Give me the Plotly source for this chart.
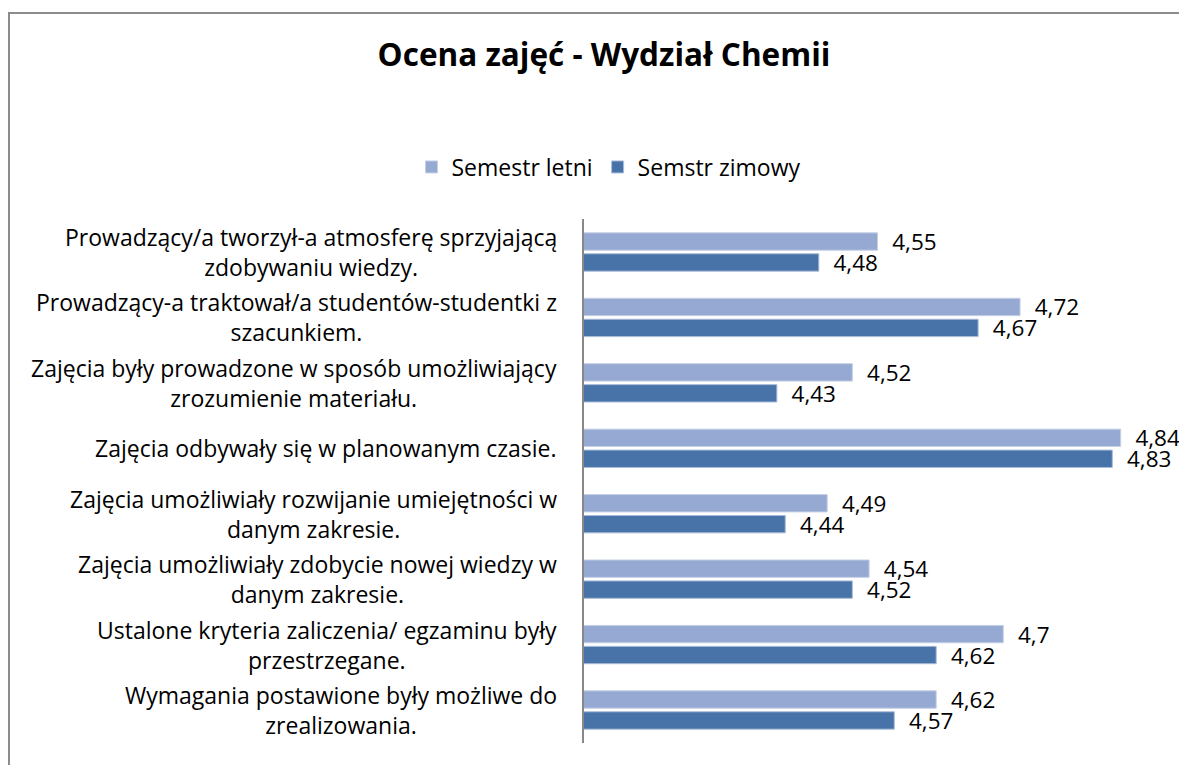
import plotly.graph_objects as go

categories = [
    "Prowadzący/a tworzył-a atmosferę sprzyjającą<br>zdobywaniu wiedzy.",
    "Prowadzący-a traktował/a studentów-studentki z<br>szacunkiem.",
    "Zajęcia były prowadzone w sposób umożliwiający<br>zrozumienie materiału.",
    "Zajęcia odbywały się w planowanym czasie.",
    "Zajęcia umożliwiały rozwijanie umiejętności w<br>danym zakresie.",
    "Zajęcia umożliwiały zdobycie nowej wiedzy w<br>danym zakresie.",
    "Ustalone kryteria zaliczenia/ egzaminu były<br>przestrzegane.",
    "Wymagania postawione były możliwe do<br>zrealizowania.",
]
letni = [4.55, 4.72, 4.52, 4.84, 4.49, 4.54, 4.70, 4.62]
zimowy = [4.48, 4.67, 4.43, 4.83, 4.44, 4.52, 4.62, 4.57]
series_names = ["Semestr letni", "Semstr zimowy"]

# page body has an 8px margin, so figure is placed at (8, 8)
OFF = 8
W, H = 1187 - OFF, 765 - OFF
L, R, T, B = 584 - OFF, 16, 219 - OFF, 22
FONT = "Open Sans"
LBL = 22.5

def fmt(v):
    s = ("%.2f" % v).rstrip("0").rstrip(".")
    return s.replace(".", ",")

fig = go.Figure()
fig.add_trace(go.Bar(
    y=categories, x=letni, orientation="h", name=series_names[0],
    marker=dict(color="#95A9D2", line=dict(color="#C5D0E6", width=1)),
    text=["  " + fmt(v) for v in letni], textposition="outside", constraintext="none",
    textfont=dict(size=LBL, color="#000000", family=FONT), cliponaxis=False,
))
fig.add_trace(go.Bar(
    y=categories, x=zimowy, orientation="h", name=series_names[1],
    marker=dict(color="#4773A8", line=dict(color="#A9BCD8", width=1)),
    text=["  " + fmt(v) for v in zimowy], textposition="outside", constraintext="none",
    textfont=dict(size=LBL, color="#000000", family=FONT), cliponaxis=False,
))

pw = W - L - R
ph = H - T - B

# category labels as centered multi-line annotations
for c in categories:
    fig.add_annotation(x=-25 / pw, xref="paper", y=c, yref="y", text=c,
                       showarrow=False, xanchor="right", yanchor="middle",
                       align="center", font=dict(size=23, color="#000000", family=FONT))

def px_x(p):
    return (p - OFF - L) / pw
def px_y(p):
    return (H - B - (p - OFF)) / ph

fig.add_shape(type="line", xref="paper", yref="paper",
              x0=px_x(9), x1=px_x(9), y0=px_y(12), y1=px_y(800),
              line=dict(color="#8C8C8C", width=2))
fig.add_shape(type="line", xref="paper", yref="paper",
              x0=px_x(8), x1=px_x(1220), y0=px_y(13), y1=px_y(13),
              line=dict(color="#8C8C8C", width=2))

fig.update_layout(
    width=W, height=H,
    margin=dict(l=L, r=R, t=T, b=B),
    paper_bgcolor="white", plot_bgcolor="white",
    barmode="group", bargap=0.36, bargroupgap=0.17,
    title=dict(text="<b>Ocena zajęć - Wydział Chemii</b>", x=(604 - OFF) / W, xanchor="center",
               y=1 - (55 - OFF) / H, yanchor="middle", yref="container",
               font=dict(size=31.5, color="#000000", family=FONT)),
    legend=dict(orientation="h", x=(609 - OFF) / W, xanchor="center", y=1 - (167 - OFF) / H,
                yanchor="middle", xref="container", yref="container",
                font=dict(size=23, color="#000000", family=FONT),
                itemwidth=30, traceorder="normal"),
    xaxis=dict(range=[4.2, 4.9], visible=False, showgrid=False, zeroline=False),
    yaxis=dict(autorange="reversed", showticklabels=False, showline=True,
               linecolor="#888888", linewidth=2, ticks="", showgrid=False),
    showlegend=True,
)

fig.write_html("out.html")
